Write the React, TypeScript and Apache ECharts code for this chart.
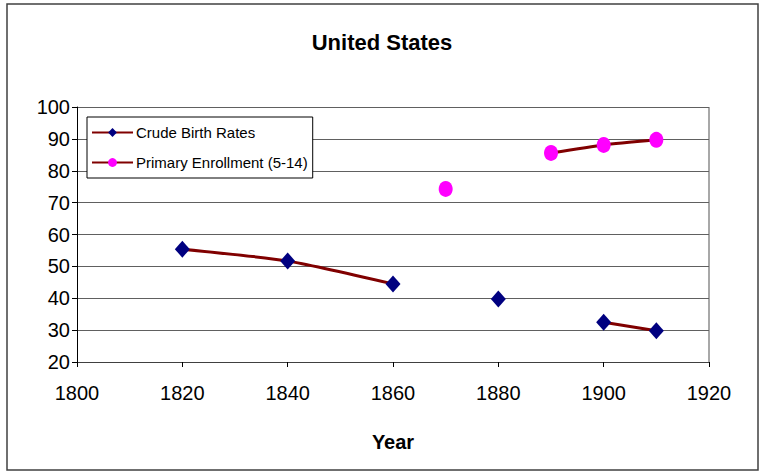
import React, { useEffect, useRef } from "react";
import * as echarts from "echarts";

const years = [1820, 1840, 1860, 1870, 1880, 1890, 1900, 1910];
const crudeBirthRates = [55.4, 51.7, 44.5, null, 39.8, null, 32.5, 29.8];
const primaryEnrollment = [null, null, null, 74.3, null, 85.6, 88.1, 89.7];
const seriesNames = ["Crude Birth Rates", "Primary Enrollment (5-14)"];

const pairs = (vals: (number | null)[]) =>
  years.map((y, i) => [y, vals[i] === null ? "-" : vals[i]]);

export default function App() {
  const ref = useRef<HTMLDivElement>(null);
  useEffect(() => {
    if (!ref.current) return;
    const chart = echarts.init(ref.current, null, { renderer: "svg" });
    const font = "Liberation Sans, Arial, sans-serif";
    chart.setOption({
      animation: false,
      backgroundColor: "#ffffff",
      textStyle: { fontFamily: font },
      title: {
        text: "United States",
        left: "center",
        top: 26,
        textStyle: { fontFamily: font, fontSize: 22, fontWeight: "bold", color: "#000" },
      },
      legend: {
        orient: "vertical",
        left: 87,
        top: 117,
        padding: [8, 5, 8, 4],
        itemWidth: 41,
        itemHeight: 11,
        itemGap: 15,
        borderColor: "#000",
        borderWidth: 1,
        backgroundColor: "#fff",
        textStyle: { fontFamily: font, fontSize: 15, color: "#000", padding: [0, 0, 0, -2] },
        data: seriesNames,
      },
      grid: { left: 77, right: 55, top: 107, bottom: 111, show: false },
      xAxis: {
        type: "value",
        min: 1800,
        max: 1920,
        interval: 20,
        name: "Year",
        nameLocation: "middle",
        nameGap: 70,
        nameTextStyle: { fontFamily: font, fontSize: 20, fontWeight: "bold", color: "#000" },
        axisLine: { show: true, lineStyle: { color: "#404040", width: 1 } },
        axisTick: { show: true, inside: false, length: 5, lineStyle: { color: "#000" } },
        axisLabel: {
          fontFamily: font,
          fontSize: 20,
          color: "#000",
          margin: 21,
          formatter: (v: number) => String(v),
        },
        splitLine: { show: false },
      },
      yAxis: {
        type: "value",
        min: 20,
        max: 100,
        interval: 10,
        axisLine: { show: true, lineStyle: { color: "#000", width: 1 } },
        axisTick: { show: true, length: 5, lineStyle: { color: "#000" } },
        axisLabel: { fontFamily: font, fontSize: 20, color: "#000", margin: 7 },
        splitLine: { show: true, lineStyle: { color: "#606060", width: 1 } },
      },
      graphic: [
        {
          type: "rect",
          shape: { x: 7, y: 4, width: 751, height: 466 },
          style: { fill: "none", stroke: "#404040", lineWidth: 1.5 },
          z: 100,
        },
        {
          type: "line",
          shape: { x1: 709, y1: 107, x2: 709, y2: 362 },
          style: { stroke: "#a8a8a8", lineWidth: 2 },
        },
      ],
      series: [
        {
          name: seriesNames[0],
          type: "line",
          data: pairs(crudeBirthRates),
          connectNulls: false,
          smooth: 0.2,
          symbol: "diamond",
          symbolSize: [15, 17],
          itemStyle: { color: "#000080" },
          lineStyle: { color: "#800000", width: 3 },
          z: 3,
        },
        {
          name: seriesNames[1],
          type: "line",
          data: pairs(primaryEnrollment),
          connectNulls: false,
          smooth: 0.2,
          symbol: "circle",
          symbolSize: [14, 16],
          itemStyle: { color: "#ff00ff" },
          lineStyle: { color: "#800000", width: 3 },
          z: 3,
        },
      ],
    });
    return () => chart.dispose();
  }, []);
  return (
    <div
      ref={ref}
      style={{ position: "fixed", left: 0, top: 0, width: 764, height: 473 }}
    />
  );
}
